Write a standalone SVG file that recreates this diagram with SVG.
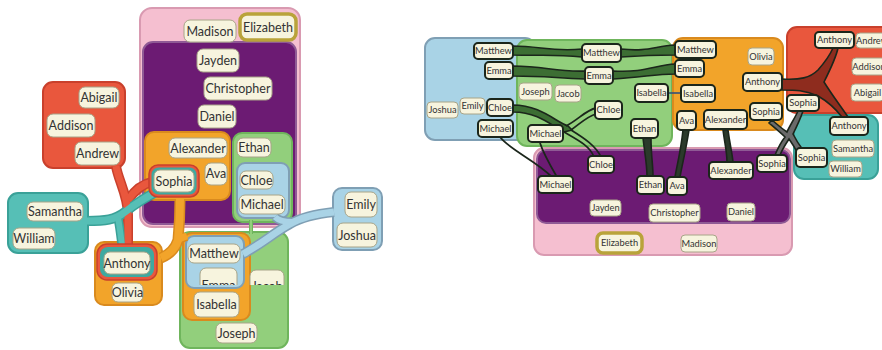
<svg xmlns="http://www.w3.org/2000/svg" width="882" height="350" viewBox="0 0 882 350">
<defs>
<style>
.bg{fill:#ffffff}
.pink{fill:#f5bfd0;stroke:#d99ab1;stroke-width:2}
.purple{fill:#6c1b73;stroke:#8f5a95;stroke-width:2}
.orange{fill:#f2a42a;stroke:#d98a1e;stroke-width:2}
.green{fill:#92cf7c;stroke:#6fb55c;stroke-width:2}
.lblue{fill:#a9d3e6;stroke:#7f9fb4;stroke-width:2}
.red{fill:#e9573d;stroke:#c9402c;stroke-width:2}
.teal{fill:#56bfb6;stroke:#3aa198;stroke-width:2}
.lb rect{fill:#f7f4de;stroke:#a8a488;stroke-width:1}
.dk rect{fill:#f7f4de;stroke:#1b261b;stroke-width:2}
.gold rect{fill:#f7f4de;stroke:#b9a33a;stroke-width:3.5}
.L text{font-family:Lato,"Liberation Sans",sans-serif;font-size:12.5px;fill:#333;text-anchor:middle}
.R text{font-family:Lato,"Liberation Sans",sans-serif;font-size:9.3px;fill:#333;text-anchor:middle}
.tube{fill:none;stroke-linecap:butt;stroke-linejoin:round}
.ln{fill:none;stroke:#1b261b;stroke-width:1.8}
.bund{stroke:#1b261b;stroke-width:1.6}
</style>
<clipPath id="seam"><rect x="0" y="0" width="882" height="285"/></clipPath>
</defs>
<rect class="bg" x="0" y="0" width="882" height="350"/>

<!-- LEFT DIAGRAM: set regions -->
<g id="left-sets">
<rect class="pink" x="140" y="8" width="160" height="219" rx="12"/>
<rect class="purple" x="143" y="42" width="153" height="182" rx="10"/>
</g>

<g id="left-subsets">
<rect class="red" x="43" y="82" width="82" height="86" rx="10"/>
<rect class="teal" x="8" y="193" width="80" height="60" rx="10"/>
<rect class="orange" x="145" y="132" width="85" height="68" rx="9"/>
<rect class="green" x="233" y="133" width="59" height="89" rx="9"/>
<rect class="lblue" x="237" y="163" width="52" height="55" rx="8"/>
<rect class="orange" x="95" y="242" width="67" height="63" rx="9"/>
<rect class="green" x="180" y="232" width="108" height="116" rx="10"/>
<rect class="orange" x="183" y="233" width="67" height="87" rx="9"/>
<rect class="lblue" x="186" y="236" width="58" height="52" rx="8"/>
<rect class="lblue" x="333" y="188" width="49" height="62" rx="9"/>
</g>

<!-- RIGHT DIAGRAM: set regions -->
<g id="right-sets">
<rect class="lblue" x="425" y="38" width="110" height="102" rx="10"/>
<rect class="green" x="517" y="40" width="155" height="106" rx="10"/>
<rect class="orange" x="673" y="38" width="110" height="92" rx="10"/>
<rect class="red" x="787" y="27" width="110" height="86" rx="10"/>
<rect class="teal" x="794" y="115" width="84" height="64" rx="10"/>
<rect class="pink" x="534" y="148" width="258" height="107" rx="10"/>
<rect class="purple" x="537" y="150" width="253" height="73" rx="9"/>
</g>

<g id="connectors">
<g class="tube">
<path d="M116,166 C118,180 128,195 128,215 L128,246" stroke="#c9402c" stroke-width="10"/>
<path d="M128,200 C135,190 142,184 152,182" stroke="#c9402c" stroke-width="10"/>
<path d="M180,199 C180,215 179,230 178,240 C175,250 168,255 161,258" stroke="#d98a1e" stroke-width="11"/>
<path d="M178,240 C180,238 184,237 186,236" stroke="#d98a1e" stroke-width="10"/>
<path d="M87,221 C105,221 115,220 125,212 C140,200 150,195 160,190" stroke="#3aa198" stroke-width="10"/>
<path d="M118,218 C120,228 121,238 122,246" stroke="#3aa198" stroke-width="9"/>
<path d="M334,212 C315,214 300,218 290,224 C275,232 260,245 243,254" stroke="#7f9fb4" stroke-width="10"/>
<path d="M292,222 C285,222 278,220 275,217" stroke="#7f9fb4" stroke-width="9"/>
<path d="M251,220 L251,234" stroke="#6fb55c" stroke-width="4"/>
<path d="M116,166 C118,180 128,195 128,215 L128,246" stroke="#e9573d" stroke-width="7"/>
<path d="M128,200 C135,190 142,184 152,182" stroke="#e9573d" stroke-width="7"/>
<path d="M180,199 C180,215 179,230 178,240 C175,250 168,255 161,258" stroke="#f2a42a" stroke-width="8"/>
<path d="M178,240 C180,238 184,237 187,236" stroke="#f2a42a" stroke-width="7"/>
<path d="M87,221 C105,221 115,220 125,212 C140,200 150,195 160,190" stroke="#56bfb6" stroke-width="7"/>
<path d="M118,218 C120,228 121,238 122,246" stroke="#56bfb6" stroke-width="6"/>
<path d="M334,212 C315,214 300,218 290,224 C275,232 260,245 243,254" stroke="#a9d3e6" stroke-width="7"/>
<path d="M292,222 C285,222 278,220 275,217" stroke="#a9d3e6" stroke-width="6"/>
<path d="M251,220 L251,234" stroke="#92cf7c" stroke-width="2"/>
</g>
<g id="right-links">
<path class="bund" fill="#3c6e33" d="M513,46 C540,46 552,52 582,49 L582,57 C552,54 540,56 513,55 Z"/>
<path class="bund" fill="#3c6e33" d="M621,49 C648,52 655,46 675,45 L675,55 C655,55 648,55 621,57 Z"/>
<path class="bund" fill="#3c6e33" d="M513,66 C545,66 555,72 585,71 L585,79 C555,78 545,76 513,76 Z"/>
<path class="bund" fill="#3c6e33" d="M613,71 C645,73 655,65 675,64 L675,74 C655,74 645,77 613,79 Z"/>
<path class="bund" fill="#3c6e33" d="M513,105 C540,105 556,122 568,126 L572,130 L564,132 C552,126 538,112 513,112 Z"/>
<path class="ln" d="M566,126 C578,120 586,110 596,108"/>
<path class="ln" d="M571,130 C582,122 588,116 596,114"/>
<path class="ln" d="M564,132 C578,140 590,146 594,157"/>
<path class="ln" d="M571,130 C584,138 596,146 601,157"/>
<path class="ln" d="M500,137 C510,150 535,160 552,177"/>
<path class="ln" d="M540,143 C544,155 550,165 557,177"/>
<path class="bund" fill="#2b3a2b" d="M643,138 C645,155 647,165 647,176 L653,176 C653,165 651,155 651,138 Z"/>
<path class="bund" fill="#2b3a2b" d="M683,130 C681,150 677,165 675,177 L680,177 C682,165 686,150 689,130 Z"/>
<path class="bund" fill="#2b3a2b" d="M723,130 C725,145 727,152 727,162 L733,162 C732,152 730,145 728,130 Z"/>
<path d="M668,93 L681,93" stroke="#34507a" stroke-width="1.6" fill="none"/>
<path class="bund" fill="#8e2c1e" d="M782,79 C800,80 810,78 818,70 C825,62 830,55 833,48 L838,48 C836,58 830,70 824,82 C832,95 842,108 848,117 L842,117 C835,108 825,100 818,96 C805,90 795,90 782,90 Z"/>
<path class="bund" fill="#6a6a6a" d="M772,120 C780,127 784,130 787,132 C790,125 795,118 798,111 L803,111 C800,120 796,128 793,134 C796,140 800,146 803,150 L797,152 C794,146 791,142 789,139 C785,145 782,150 780,155 L775,155 C778,148 781,142 785,137 C780,132 775,128 769,123 Z"/>
</g>
</g>

<g id="rings">
<rect x="149" y="165" width="50" height="32" rx="9" fill="#e9573d" stroke="#c9402c" stroke-width="1.5"/>
<rect x="151.5" y="167.5" width="45" height="27" rx="7" fill="#3fa9a0"/>
<rect x="97" y="244" width="60" height="36" rx="10" fill="#e9573d" stroke="#c9402c" stroke-width="1.5"/>
<rect x="100" y="247" width="54" height="30" rx="8" fill="#3fa9a0"/>
</g>

<!-- LEFT labels -->
<g class="L">
<g id="l-madison" class="lb"><rect x="184" y="20" width="52" height="22" rx="6"/><text x="210" y="35.5">Madison</text></g>
<g id="l-elizabeth" class="gold"><rect x="240" y="14" width="56" height="26" rx="7"/><text x="268" y="31.5">Elizabeth</text></g>
<g id="l-jayden" class="lb"><rect x="197" y="49" width="42" height="23" rx="6"/><text x="218" y="65">Jayden</text></g>
<g id="l-christopher" class="lb"><rect x="204" y="77" width="68" height="23" rx="6"/><text x="238" y="93">Christopher</text></g>
<g id="l-daniel" class="lb"><rect x="198" y="105" width="38" height="23" rx="6"/><text x="217" y="121">Daniel</text></g>
<g id="l-alexander" class="lb"><rect x="169" y="138" width="58" height="20" rx="6"/><text x="198" y="152.5">Alexander</text></g>
<g id="l-ava" class="lb"><rect x="205" y="163" width="22" height="22" rx="6"/><text x="216" y="178">Ava</text></g>
<g id="l-sophia" class="lb"><rect x="154" y="170" width="40" height="22" rx="6"/><text x="174" y="185.5">Sophia</text></g>
<g id="l-ethan" class="lb"><rect x="237" y="138" width="34" height="19" rx="6"/><text x="254" y="152">Ethan</text></g>
<g id="l-chloe" class="lb"><rect x="240" y="171" width="33" height="18" rx="6"/><text x="256.5" y="184.5">Chloe</text></g>
<g id="l-michael" class="lb"><rect x="239" y="195" width="46" height="19" rx="6"/><text x="262" y="209">Michael</text></g>
<g id="l-abigail" class="lb"><rect x="79" y="87" width="40" height="21" rx="6"/><text x="99" y="102">Abigail</text></g>
<g id="l-addison" class="lb"><rect x="47" y="114" width="48" height="23" rx="6"/><text x="71" y="130">Addison</text></g>
<g id="l-andrew" class="lb"><rect x="75" y="142" width="45" height="23" rx="6"/><text x="97.5" y="158">Andrew</text></g>
<g id="l-samantha" class="lb"><rect x="27" y="202" width="56" height="19" rx="6"/><text x="55" y="216">Samantha</text></g>
<g id="l-william" class="lb"><rect x="13" y="228" width="42" height="21" rx="6"/><text x="34" y="243">William</text></g>
<g id="l-anthony" class="lb"><rect x="104" y="252" width="46" height="22" rx="6"/><text x="127" y="267.5">Anthony</text></g>
<g id="l-olivia" class="lb"><rect x="112" y="283" width="31" height="19" rx="6"/><text x="127.5" y="297">Olivia</text></g>
<g id="l-matthew" class="lb"><rect x="188" y="244" width="52" height="19" rx="6"/><text x="214" y="258">Matthew</text></g>
<g id="l-emma" class="lb" clip-path="url(#seam)"><rect x="200" y="268" width="37" height="26" rx="6"/><text x="218.5" y="289.5">Emma</text></g>
<g id="l-jacob" class="lb" clip-path="url(#seam)"><rect x="250" y="270" width="34" height="26" rx="6"/><text x="267" y="291">Jacob</text></g>
<g id="l-isabella" class="lb"><rect x="194" y="292" width="45" height="25" rx="6"/><text x="216.5" y="309">Isabella</text></g>
<g id="l-joseph" class="lb"><rect x="216" y="323" width="41" height="20" rx="6"/><text x="236.5" y="337.5">Joseph</text></g>
<g id="l-emily" class="lb"><rect x="345" y="192" width="32" height="25" rx="6"/><text x="361" y="209">Emily</text></g>
<g id="l-joshua" class="lb"><rect x="337" y="223" width="40" height="24" rx="6"/><text x="357" y="239.5">Joshua</text></g>
</g>

<!-- RIGHT labels -->
<g class="R">
<g id="r-matthew-b" class="dk"><rect x="474" y="43" width="39" height="16" rx="4"/><text x="493.5" y="54.3">Matthew</text></g>
<g id="r-emma-b" class="dk"><rect x="485" y="62" width="28" height="17" rx="4"/><text x="499" y="73.8">Emma</text></g>
<g id="r-joshua" class="lb"><rect x="427" y="102" width="31" height="16" rx="4"/><text x="442.5" y="113.3">Joshua</text></g>
<g id="r-emily" class="lb"><rect x="460" y="98" width="25" height="16" rx="4"/><text x="472.5" y="109.3">Emily</text></g>
<g id="r-chloe-b" class="dk"><rect x="487" y="99" width="26" height="17" rx="4"/><text x="500" y="110.8">Chloe</text></g>
<g id="r-michael-b" class="dk"><rect x="478" y="120" width="35" height="17" rx="4"/><text x="495.5" y="131.8">Michael</text></g>
<g id="r-joseph" class="lb"><rect x="519" y="83" width="33" height="17" rx="4"/><text x="535.5" y="94.8">Joseph</text></g>
<g id="r-jacob" class="lb"><rect x="555" y="85" width="26" height="17" rx="4"/><text x="568" y="96.8">Jacob</text></g>
<g id="r-michael-g" class="dk"><rect x="528" y="125" width="35" height="17" rx="4"/><text x="545.5" y="136.8">Michael</text></g>
<g id="r-matthew-g" class="dk"><rect x="582" y="44" width="39" height="18" rx="4"/><text x="601.5" y="56.3">Matthew</text></g>
<g id="r-emma-g" class="dk"><rect x="585" y="67" width="28" height="17" rx="4"/><text x="599" y="78.8">Emma</text></g>
<g id="r-isabella-g" class="dk"><rect x="635" y="84" width="33" height="18" rx="4"/><text x="651.5" y="96.3">Isabella</text></g>
<g id="r-chloe-g" class="dk"><rect x="595" y="101" width="27" height="18" rx="4"/><text x="608.5" y="113.3">Chloe</text></g>
<g id="r-ethan-g" class="dk"><rect x="631" y="119" width="27" height="19" rx="4"/><text x="644.5" y="131.8">Ethan</text></g>
<g id="r-matthew-o" class="dk"><rect x="675" y="41" width="41" height="17" rx="4"/><text x="695.5" y="52.8">Matthew</text></g>
<g id="r-emma-o" class="dk"><rect x="675" y="60" width="29" height="17" rx="4"/><text x="689.5" y="71.8">Emma</text></g>
<g id="r-isabella-o" class="dk"><rect x="681" y="85" width="34" height="17" rx="4"/><text x="698" y="96.8">Isabella</text></g>
<g id="r-ava-o" class="dk"><rect x="677" y="111" width="19" height="19" rx="4"/><text x="686.5" y="123.8">Ava</text></g>
<g id="r-olivia" class="lb"><rect x="748" y="48" width="26" height="17" rx="4"/><text x="761" y="59.8">Olivia</text></g>
<g id="r-anthony-o" class="dk"><rect x="743" y="73" width="39" height="18" rx="4"/><text x="762.5" y="85.3">Anthony</text></g>
<g id="r-alexander-o" class="dk"><rect x="704" y="110" width="43" height="19" rx="4"/><text x="725.5" y="122.8">Alexander</text></g>
<g id="r-sophia-o" class="dk"><rect x="750" y="103" width="32" height="17" rx="4"/><text x="766" y="114.8">Sophia</text></g>
<g id="r-anthony-r" class="dk"><rect x="815" y="32" width="39" height="16" rx="4"/><text x="834.5" y="43.3">Anthony</text></g>
<g id="r-andrew" class="lb"><rect x="856" y="33" width="32" height="15" rx="4"/><text x="872" y="43.8">Andrew</text></g>
<g id="r-addison" class="lb"><rect x="852" y="58" width="34" height="17" rx="4"/><text x="869" y="69.8">Addison</text></g>
<g id="r-abigail" class="lb"><rect x="851" y="84" width="33" height="17" rx="4"/><text x="867.5" y="95.8">Abigail</text></g>
<g id="r-sophia-r" class="dk"><rect x="787" y="95" width="32" height="16" rx="4"/><text x="803" y="106.3">Sophia</text></g>
<g id="r-anthony-t" class="dk"><rect x="830" y="117" width="38" height="18" rx="4"/><text x="849" y="129.3">Anthony</text></g>
<g id="r-samantha" class="lb"><rect x="832" y="140" width="42" height="17" rx="4"/><text x="853" y="151.8">Samantha</text></g>
<g id="r-william" class="lb"><rect x="829" y="161" width="33" height="16" rx="4"/><text x="845.5" y="172.3">William</text></g>
<g id="r-sophia-t" class="dk"><rect x="796" y="148" width="31" height="19" rx="4"/><text x="811.5" y="160.8">Sophia</text></g>
<g id="r-alexander-p" class="dk"><rect x="709" y="162" width="44" height="17" rx="4"/><text x="731" y="173.8">Alexander</text></g>
<g id="r-sophia-p" class="dk"><rect x="757" y="155" width="30" height="17" rx="4"/><text x="772" y="166.8">Sophia</text></g>
<g id="r-chloe-p" class="dk"><rect x="588" y="156" width="26" height="17" rx="4"/><text x="601" y="167.8">Chloe</text></g>
<g id="r-michael-p" class="dk"><rect x="538" y="176" width="35" height="17" rx="4"/><text x="555.5" y="187.8">Michael</text></g>
<g id="r-ethan-p" class="dk"><rect x="637" y="176" width="27" height="18" rx="4"/><text x="650.5" y="188.3">Ethan</text></g>
<g id="r-ava-p" class="dk"><rect x="667" y="177" width="20" height="18" rx="4"/><text x="677" y="189.3">Ava</text></g>
<g id="r-jayden" class="lb"><rect x="590" y="200" width="31" height="16" rx="4"/><text x="605.5" y="211.3">Jayden</text></g>
<g id="r-christopher" class="lb"><rect x="649" y="204" width="51" height="18" rx="4"/><text x="674.5" y="216.3">Christopher</text></g>
<g id="r-daniel" class="lb"><rect x="727" y="203" width="28" height="18" rx="4"/><text x="741" y="215.3">Daniel</text></g>
<g id="r-elizabeth" class="gold"><rect x="597" y="233" width="45" height="20" rx="6"/><text x="619.5" y="246.3">Elizabeth</text></g>
<g id="r-madison" class="lb"><rect x="681" y="235" width="36" height="17" rx="4"/><text x="699" y="246.8">Madison</text></g>
</g>
</svg>
